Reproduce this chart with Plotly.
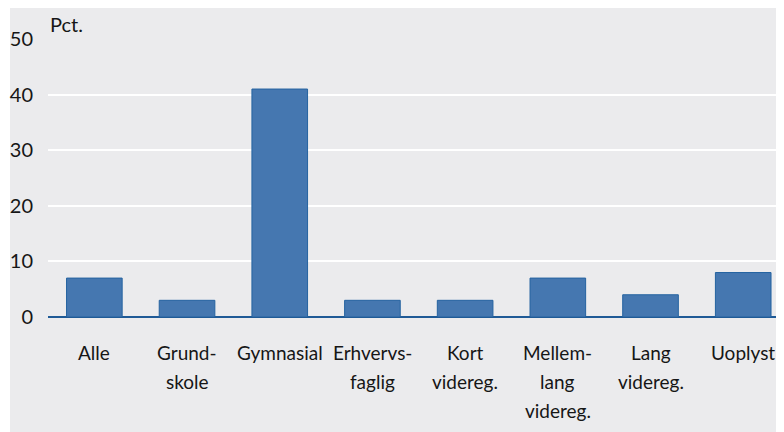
import plotly.graph_objects as go

# --- data ---
categories = ["Alle", "Grund-<br>skole", "Gymnasial", "Erhvervs-<br>faglig",
              "Kort<br>videreg.", "Mellem-<br>lang<br>videreg.", "Lang<br>videreg.", "Uoplyst"]
values = [7, 3, 41, 3, 3, 7, 4, 8]
y_ticks = [0, 10, 20, 30, 40, 50]

# page body adds an 8px margin, so the figure is 8px smaller than the window
W, H = 776, 424
L, R, T, B = 40, 0, 31, 115
FONT = "Lato"
TXT = "#161616"

fig = go.Figure()
fig.add_trace(go.Bar(
    x=list(range(len(categories))),
    y=values,
    marker=dict(color="#4577b0", line=dict(color="#2563a0", width=1)),
    width=0.6,
    hoverinfo="y",
))

# outer light-grey panel (white strip on the left)
pw = W - L - R
ph = H - T - B
fig.add_shape(type="rect", xref="paper", yref="paper", layer="below",
              x0=(2 - L) / pw, x1=1.0, y0=-B / ph - 0.01, y1=(H - B) / ph + 0.01,
              fillcolor="#ebebed", line_width=0)

fig.add_annotation(text="Pct.", xref="paper", yref="paper", x=0, y=1,
                   xanchor="left", yanchor="bottom", yshift=1, showarrow=False,
                   font=dict(family=FONT, size=20, color=TXT))

# category labels, one annotation per line for the wider line spacing
for i, lab in enumerate(categories):
    for j, line in enumerate(lab.split("<br>")):
        fig.add_annotation(text=line, xref="x", yref="paper", x=i, y=0,
                           xanchor="center", yanchor="middle",
                           yshift=-(35 + 29 * j), showarrow=False,
                           font=dict(family=FONT, size=19, color=TXT))

fig.update_layout(
    width=W, height=H,
    margin=dict(l=L, r=R, t=T, b=B, pad=0),
    paper_bgcolor="white",
    plot_bgcolor="#dfe0e2",
    showlegend=False,
    font=dict(family=FONT, size=19, color=TXT),
    xaxis=dict(
        range=[-0.5, 7.44],
        showticklabels=False,
        showgrid=False, ticks="", zeroline=False,
    ),
    yaxis=dict(
        range=[0, 50], tickvals=y_ticks,
        showgrid=True, gridcolor="white", gridwidth=2,
        zeroline=True, zerolinecolor="#1f5a96", zerolinewidth=2,
        ticks="", ticklabelstandoff=14,
        tickfont=dict(size=20),
    ),
)

fig.write_html("out.html")
